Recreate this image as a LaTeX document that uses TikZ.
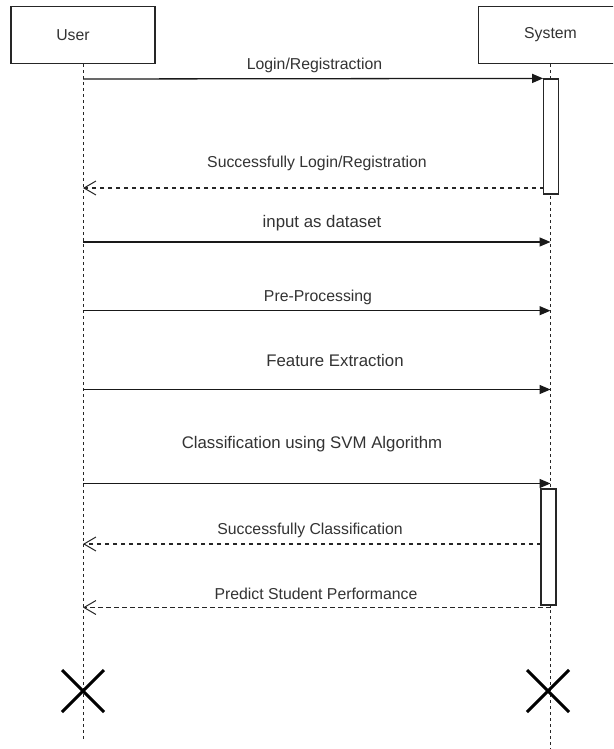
\documentclass[tikz,border=0pt]{standalone}
\usepackage{fontspec}
\setmainfont{Liberation Sans}
\usetikzlibrary{arrows.meta}
\tikzset{
  actor/.style={draw=black!85, line width=1.2pt, fill=white, minimum width=144pt, minimum height=57pt, inner sep=0pt, font=\fontsize{15.8}{18}\selectfont, text=black!80},
  actbar/.style={draw=black!85, line width=1.2pt, fill=white, inner sep=0pt},
  lifeline/.style={draw=black!85, line width=0.9pt, dash pattern=on 3pt off 3pt},
  msg/.style={draw=black!90, line width=1.3pt, -{Triangle[length=11pt,width=9pt]}},
  reply/.style={draw=black!85, line width=1.1pt, dash pattern=on 4.5pt off 3.5pt, -{Straight Barb[length=12pt,width=14pt,line width=1pt]}},
  lbl/.style={inner sep=0pt, font=\fontsize{15.8}{18}\selectfont, text=black!80},
  lblbig/.style={inner sep=0pt, font=\fontsize{16.8}{19}\selectfont, text=black!80},
  destroy/.style={draw=black, line width=3pt}
}
\begin{document}
\begin{tikzpicture}[x=1pt,y=-1pt]
\clip (0,0) rectangle (613,749);
\fill[white] (0,0) rectangle (613,749);
% actors
\node[actor] (user) at (83,35) {\hspace*{-20pt}User};
\node[actor] (sys) at (550.5,35) {System};
% lifeline ends
\coordinate (uend) at (83,742);
\coordinate (send) at (550.5,749);
\draw[lifeline] (user.south) -- (uend);
\draw[lifeline] (sys.south) -- (send);
% activation bars
\node[actbar, minimum width=14.5pt, minimum height=115pt] (bar1) at (551,136.5) {};
\node[actbar, minimum width=15pt, minimum height=116pt] (bar2) at (548.5,547) {};
% message end points
\coordinate (u1) at (83,79);
\coordinate (s1) at (bar1.north west);
\coordinate (s2) at (544,188);
\coordinate (u2) at (83,188);
\coordinate (u3) at (83,242);
\coordinate (s3) at (550.5,242);
\coordinate (u4) at (83,310.7);
\coordinate (s4) at (550.5,310.7);
\coordinate (u5) at (83,389.5);
\coordinate (s5) at (550.5,389.5);
\coordinate (u6) at (83,483.5);
\coordinate (s6) at (550.5,483.5);
\coordinate (s7) at (541,544);
\coordinate (u7) at (83,544);
\coordinate (s8) at (550.5,607.5);
\coordinate (u8) at (83,607.5);
% messages
\draw[msg] (u1) -- (s1);
\draw[reply] (s2) -- (u2);
\draw[msg] (u3) -- (s3);
\draw[msg] (u4) -- (s4);
\draw[msg] (u5) -- (s5);
\draw[msg] (u6) -- (s6);
\draw[reply] (s7) -- (u7);
\draw[reply] (s8) -- (u8);
% labels
\node[lbl] (l1) at (314.5,65) {Login/Registraction};
\node[lbl] (l2) at (317,163) {Successfully Login/Registration};
\node[lblbig] (l3) at (322,223.5) {input as dataset};
\node[lbl] (l4) at (318,297) {Pre-Processing};
\node[lblbig] (l5) at (335,360) {Feature Extraction};
\node[lblbig] (l6) at (312,444) {Classification using SVM Algorithm};
\node[lbl] (l7) at (310,530) {Successfully Classification};
\node[lbl] (l8) at (316,594) {Predict Student Performance};
% destruction marks
\coordinate (xu) at (83,691);
\coordinate (xs) at (548,691);
\draw[destroy] (xu) +(-21,-21) -- +(21,21) +(-21,21) -- +(21,-21);
\draw[destroy] (xs) +(-21,-21) -- +(21,21) +(-21,21) -- +(21,-21);
\end{tikzpicture}
\end{document}
